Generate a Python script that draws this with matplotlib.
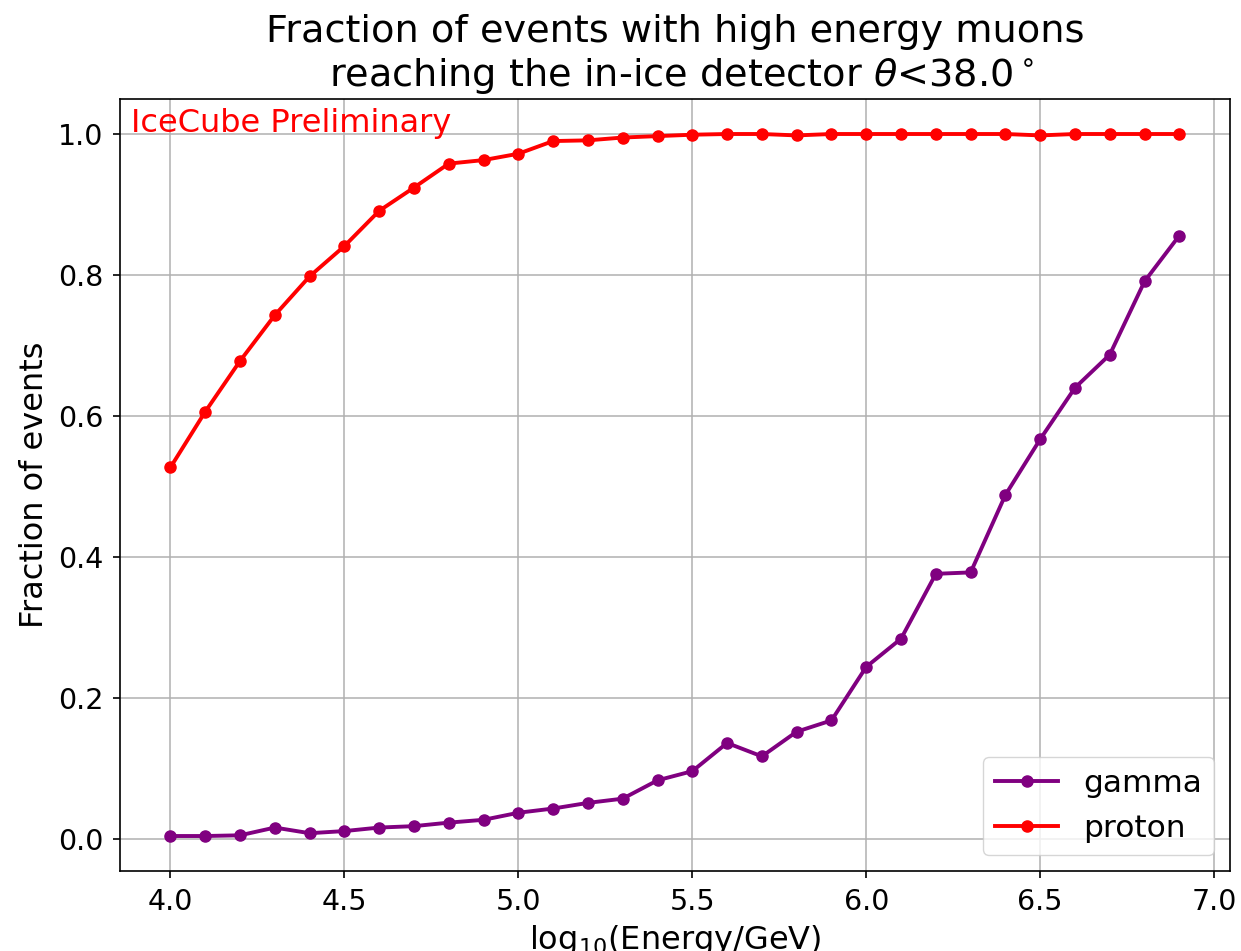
import matplotlib
matplotlib.use("Agg")
import matplotlib.pyplot as plt
import numpy as np

log_energy = [4.0, 4.1, 4.2, 4.3, 4.4, 4.5, 4.6, 4.7, 4.8, 4.9,
              5.0, 5.1, 5.2, 5.3, 5.4, 5.5, 5.6, 5.7, 5.8, 5.9,
              6.0, 6.1, 6.2, 6.3, 6.4, 6.5, 6.6, 6.7, 6.8, 6.9]

gamma_frac = [0.004, 0.004, 0.005, 0.016, 0.008, 0.011, 0.016, 0.018, 0.023, 0.027,
              0.037, 0.043, 0.051, 0.057, 0.083, 0.096, 0.136, 0.117, 0.152, 0.168,
              0.244, 0.284, 0.376, 0.378, 0.488, 0.567, 0.640, 0.687, 0.791, 0.856]

proton_frac = [0.527, 0.606, 0.678, 0.743, 0.798, 0.841, 0.891, 0.924, 0.958, 0.963,
               0.972, 0.990, 0.991, 0.995, 0.997, 0.999, 1.000, 1.000, 0.998, 1.000,
               1.000, 1.000, 1.000, 1.000, 1.000, 0.998, 1.000, 1.000, 1.000, 1.000]

plt.rcParams["axes.linewidth"] = 1.2
plt.rcParams["grid.linewidth"] = 1.1

fig = plt.figure(figsize=(12.41, 9.51), dpi=100)
ax = fig.add_axes([0.0967, 0.084, 0.8943, 0.812])

ax.plot(log_energy, gamma_frac, color="purple", marker="o", markersize=8,
        linewidth=2.8, label="gamma")
ax.plot(log_energy, proton_frac, color="red", marker="o", markersize=8,
        linewidth=2.8, label="proton")

ax.grid(True)
ax.tick_params(labelsize=20.5, length=5, width=1.2, pad=7)
ax.set_xlabel(r"log$_{10}$(Energy/GeV)", fontsize=23, labelpad=5)
ax.set_ylabel("Fraction of events", fontsize=23, labelpad=6)
ax.set_title("Fraction of events with high energy muons\n reaching the in-ice detector "
             r"$\theta$<38.0$^\circ$", fontsize=27.5, pad=9)
ax.text(0.01, 0.988, "IceCube Preliminary", color="red", fontsize=23,
        transform=ax.transAxes, ha="left", va="top")
ax.legend(loc="lower right", fontsize=22.5)

fig.savefig("out.png", dpi=100)
